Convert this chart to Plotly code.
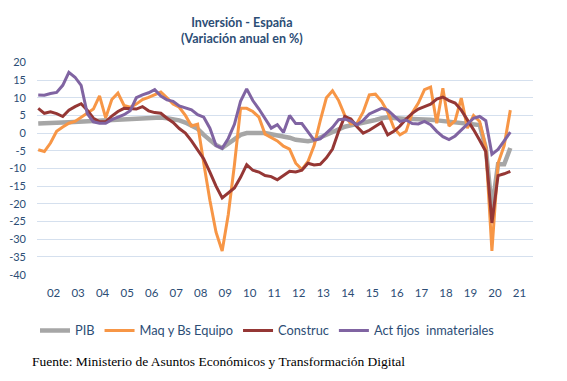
import plotly.graph_objects as go

# ---- data (annual % change, quarterly 2001T4 .. 2021T1) ----
start_year, start_q = 2001, 4
pib = [2.7, 2.7, 2.8, 2.9, 3.0, 3.1, 3.2, 3.3, 3.3, 3.4,
       3.4, 3.5, 3.6, 3.7, 3.8, 3.9, 4.0, 4.2, 4.4, 4.5,
       4.4, 4.2, 4.0, 3.6, 3.0, 2.2, 1.2, -0.5, -2.0, -3.4,
       -4.2, -3.0, -1.5, -0.5, 0.0, 0.1, 0.2, 0.0, -0.3, -0.6,
       -0.9, -1.3, -1.9, -2.2, -2.3, -2.0, -1.2, -0.5, 0.4, 1.2,
       1.8, 2.2, 2.5, 2.9, 3.3, 3.7, 4.2, 4.5, 4.3, 4.0,
       4.0, 4.0, 4.0, 3.9, 3.8, 3.6, 3.4, 3.2, 3.0, 2.8,
       2.7, 2.5, 2.3, -4.2, -21.5, -8.8, -8.8, -4.2]
maq = [-4.7, -5.2, -2.8, 0.5, 1.7, 2.8, 3.3, 4.5, 5.8, 6.8,
       10.5, 4.3, 9.5, 11.3, 7.8, 7.3, 8.2, 9.5, 10.1, 10.8,
       11.6, 10.0, 8.2, 7.3, 5.0, 2.0, 2.5, -8.5, -19.0, -28.0,
       -33.3, -23.0, -9.0, 7.0, 7.0, 6.1, 4.5, -0.3, -1.2, -2.2,
       -3.7, -4.5, -8.5, -10.3, -8.0, -3.5, 3.5, 10.0, 12.0, 9.2,
       5.0, 2.6, 2.8, 6.0, 10.8, 11.0, 9.0, 6.0, 1.5, -0.5,
       0.5, 5.7, 8.5, 12.3, 13.0, 2.8, 12.7, 2.0, 3.5, 9.9,
       1.4, 5.0, 3.3, -4.0, -33.3, -8.5, -3.5, 6.5]
construc = [7.0, 5.6, 6.0, 5.5, 4.7, 6.5, 7.5, 8.3, 6.5, 4.2,
            3.2, 3.2, 4.8, 6.1, 7.0, 6.8, 6.8, 7.5, 6.3, 5.8,
            5.6, 4.2, 3.0, 1.3, 0.0, -2.2, -4.8, -7.3, -11.0, -15.0,
            -18.3, -16.8, -15.5, -12.5, -8.9, -10.5, -11.0, -12.0, -12.3, -13.2,
            -12.0, -10.8, -11.0, -10.5, -8.5, -9.0, -8.8, -7.0, -4.5, 0.5,
            4.7, 4.0, 1.8, 0.0, 0.8, 1.9, 3.0, -0.5, 0.5, 2.0,
            4.0, 5.6, 6.8, 7.5, 8.2, 9.6, 10.2, 9.2, 8.5, 6.5,
            3.8, 1.0, -2.0, -5.2, -25.4, -12.0, -11.5, -10.8]
inmat = [10.8, 10.7, 11.2, 11.5, 13.5, 17.2, 15.8, 13.5, 5.5, 3.2,
         2.8, 2.8, 3.8, 4.4, 5.2, 6.3, 10.0, 10.8, 11.4, 12.3,
         10.5, 9.4, 9.0, 7.7, 7.2, 6.6, 5.2, 4.5, 1.4, -3.5,
         -4.3, -1.5, 2.5, 9.0, 12.5, 9.2, 6.8, 4.2, 1.4, 2.4,
         0.2, 5.0, 2.7, 2.7, 0.5, -2.0, -1.6, 0.0, 1.6, 3.8,
         4.0, 3.4, 2.4, 3.6, 5.4, 6.2, 7.0, 6.5, 5.0, 3.3,
         3.7, 2.7, 2.6, 3.3, 2.4, 0.5, -1.0, -1.8, -0.8, 0.9,
         2.5, 4.2, 4.7, 3.5, -6.0, -4.6, -2.2, 0.3]

series_names = ["PIB", "Maq y Bs Equipo", "Construc", "Act fijos  inmateriales"]
series_colors = ["#A6A6A6", "#F79646", "#953735", "#8064A2"]
series_widths = [4.5, 3, 3, 3]

year_labels = ["02", "03", "04", "05", "06", "07", "08", "09", "10", "11",
               "12", "13", "14", "15", "16", "17", "18", "19", "20", "21"]
y_ticks = [20, 15, 10, 5, 0, -5, -10, -15, -20, -25, -30, -35, -40]

# quarter positions as decimal years (mid-quarter)
n = len(pib)
xq = []
y, q = start_year, start_q
for _ in range(n):
    xq.append(y + (q - 0.5) / 4)
    q += 1
    if q > 4:
        q = 1
        y += 1

label_pos = [2000 + int(s) + 0.5 for s in year_labels]
bound_pos = [2001 + 0.875 + k for k in range(21)]

TXT = "#2C4D75"
GRID = "#D5E0EE"
ZERO = "#B8CCE4"

# layout geometry (screen pixels; page shows figure with an 8px body margin)
OFF = 8
PL, PR, PT, PB = 37, 533, 61.7, 275
W, H = 567, 381


def px(xs):
    return (xs - PL) / (PR - PL)


def py(ys):
    return (PB - ys) / (PB - PT)


fig = go.Figure()
for vals, name, col, w in zip([pib, maq, construc, inmat], series_names, series_colors, series_widths):
    fig.add_trace(go.Scatter(x=xq, y=vals, mode="lines", name=name,
                             line=dict(color=col, width=w)))

xr = [xq[0] - 0.05, xq[0] + 80.7 / 4]
yr = [-40.1, 20.1]

fig.update_layout(
    width=W, height=H,
    paper_bgcolor="white", plot_bgcolor="white",
    margin=dict(l=PL - OFF, r=W - (PR - OFF), t=PT - OFF, b=H - (PB - OFF),
                autoexpand=False),
    font=dict(family="Lato, 'Open Sans', sans-serif", color=TXT, size=11),
    xaxis=dict(range=xr, tickvals=label_pos, ticktext=year_labels,
               showgrid=False, zeroline=False, showline=False, ticks="",
               automargin=False,
               ticklabelstandoff=9, tickfont=dict(size=11.5, color=TXT)),
    xaxis2=dict(range=xr, overlaying="x", anchor="free",
                position=(0 - yr[0]) / (yr[1] - yr[0]), side="bottom",
                tickvals=bound_pos, showticklabels=False, ticks="outside",
                ticklen=4, tickwidth=1.5, tickcolor=ZERO, automargin=False,
                showline=True, linecolor=ZERO, linewidth=2.5,
                showgrid=False, zeroline=False, layer="below traces"),
    yaxis=dict(range=yr, tickvals=y_ticks, ticktext=[str(v) for v in y_ticks],
               showgrid=True, gridcolor=GRID, gridwidth=1, zeroline=False,
               showline=False, ticks="", ticklabelstandoff=10, automargin=False,
               tickfont=dict(size=11, color=TXT)),
    legend=dict(orientation="h", x=px(35), xanchor="left",
                y=py(330.7), yanchor="middle",
                font=dict(size=12.8, color=TXT), itemwidth=30,
                bgcolor="rgba(0,0,0,0)"),
    showlegend=True,
)

fig.add_annotation(text="<b>Inversión - España<br>(Variación anual en %)</b>",
                   xref="paper", yref="paper", x=px(242), y=py(30),
                   xanchor="center", yanchor="middle", showarrow=False,
                   font=dict(size=12.5, color=TXT, family="Lato, sans-serif"))

fig.add_annotation(text="Fuente: Ministerio de Asuntos Económicos y Transformación Digital",
                   xref="paper", yref="paper",
                   x=px(29.5), y=py(361.7),
                   xanchor="left", yanchor="middle", showarrow=False,
                   font=dict(family="Liberation Serif, 'Times New Roman', serif",
                             size=13.5, color="black"))

fig.write_html("out.html")
